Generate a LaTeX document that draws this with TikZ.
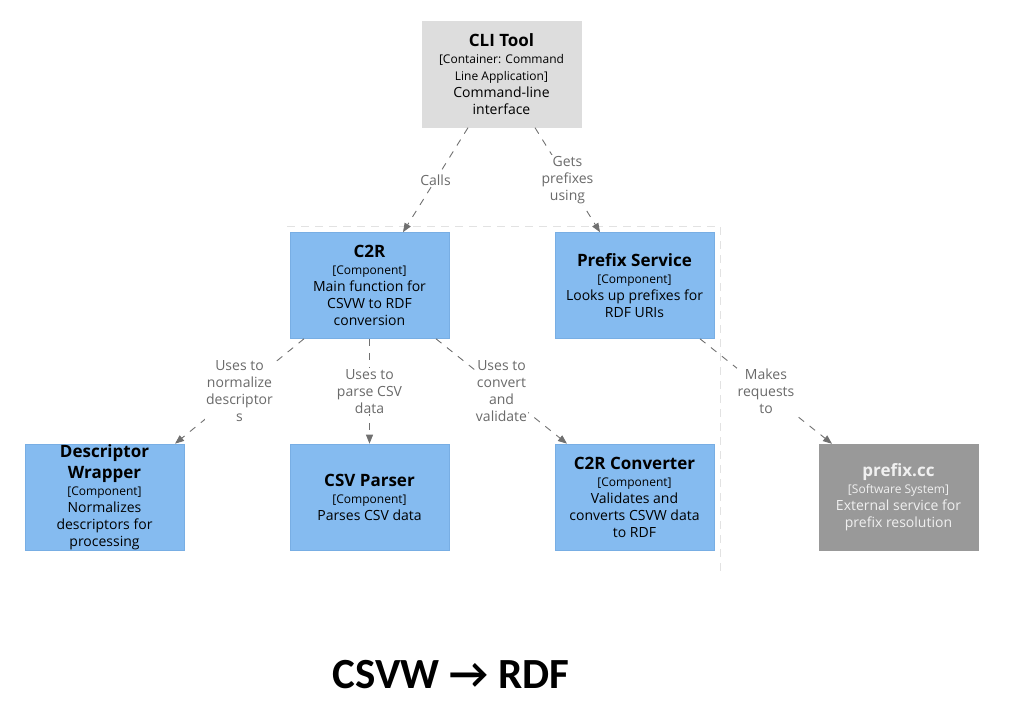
\documentclass[tikz,border=0pt]{standalone}
\usepackage{fontspec}
\setmainfont{Open Sans}
\newfontfamily\titlefont{Carlito}
\usetikzlibrary{arrows.meta}
\definecolor{compblue}{HTML}{85BBF0}
\definecolor{compedge}{HTML}{78AEE4}
\definecolor{contgray}{HTML}{DDDDDD}
\definecolor{extgray}{HTML}{999999}
\definecolor{linegray}{HTML}{707070}
\definecolor{labelgray}{HTML}{6A6A6A}
\definecolor{boundgray}{HTML}{E2E2E2}
\newcommand{\ttl}[1]{{\fontsize{17}{17}\selectfont\bfseries #1}}
\newcommand{\typ}[1]{{\fontsize{12}{14}\selectfont #1}}
\begin{document}
\begin{tikzpicture}[x=1pt,y=-1pt,
  box/.style={minimum width=159pt, minimum height=106pt, inner sep=0pt, align=center,
    font=\fontsize{14}{17}\selectfont},
  comp/.style={box, fill=compblue, draw=compedge, line width=0.6pt, text=black},
  cont/.style={box, fill=contgray, draw=contgray, text=black},
  ext/.style={box, fill=extgray, draw=extgray, text=white!94!black},
  rel/.style={draw=linegray, line width=0.9pt, dash pattern=on 7pt off 7pt,
    -{Triangle[length=9pt,width=7pt]}},
  lbl/.style={fill=white, inner sep=1pt, align=center, text=labelgray,
    font=\fontsize{14}{17}\selectfont}
]
\useasboundingbox (0,0) rectangle (1009,723);

% boundary (partially visible)
\draw[boundgray, line width=1pt, dash pattern=on 8pt off 6pt] (287,226) -- (720,226) -- (720,576);

\node[cont] (cli) at (501.5,74.5) {\ttl{CLI Tool}\\\typ{[Container: Command}\\\typ{Line Application]}\\Command-line\\interface};
\node[comp] (c2r) at (369.5,285.5) {\ttl{C2R}\\\typ{[Component]}\\Main function for\\CSVW to RDF\\conversion};
\node[comp] (prefix) at (634.5,285.5) {\ttl{Prefix Service}\\\typ{[Component]}\\Looks up prefixes for\\RDF URIs};
\node[comp] (desc) at (104.5,497) {\ttl{Descriptor}\\[4pt]\ttl{Wrapper}\\\typ{[Component]}\\Normalizes\\descriptors for\\processing};
\node[comp] (csv) at (369.5,497) {\ttl{CSV Parser}\\\typ{[Component]}\\Parses CSV data};
\node[comp] (conv) at (634.5,497) {\ttl{C2R Converter}\\\typ{[Component]}\\Validates and\\converts CSVW data\\to RDF};
\node[ext] (pcc) at (898.5,497) {\ttl{prefix.cc}\\\typ{[Software System]}\\External service for\\prefix resolution};

\draw[rel] ([xshift=-33.5pt]cli.south) -- node[lbl]{Calls} ([xshift=33.5pt]c2r.north);
\draw[rel] ([xshift=33.5pt]cli.south) -- node[lbl]{Gets\\prefixes\\using} ([xshift=-34.5pt]prefix.north);
\draw[rel] ([xshift=-65.5pt]c2r.south) -- node[lbl]{Uses to\\normalize\\descriptor\\s} ([xshift=70.5pt]desc.north);
\draw[rel] (c2r.south) -- node[lbl]{Uses to\\parse CSV\\data} (csv.north);
\draw[rel] ([xshift=66.5pt]c2r.south) -- node[lbl]{Uses to\\convert\\and\\validate} ([xshift=-67.5pt]conv.north);
\draw[rel] ([xshift=65.5pt]prefix.south) -- node[lbl]{Makes\\requests\\to} ([xshift=-66.5pt]pcc.north);

\node[font=\titlefont\bfseries\fontsize{43}{47}\selectfont, inner sep=0pt] (title) at (451,675) {CSVW → RDF};
\end{tikzpicture}
\end{document}
